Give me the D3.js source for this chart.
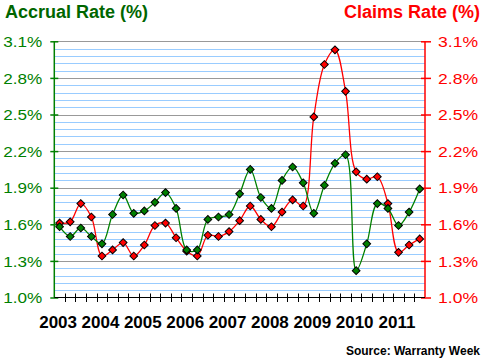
<!DOCTYPE html>
<html><head><meta charset="utf-8">
<script src="https://cdn.jsdelivr.net/npm/d3@7"></script>
<style>body{margin:0;background:#fff}svg{display:block}text{font-family:"Liberation Sans",Arial,sans-serif}</style>
</head><body><svg id="c" width="484" height="361"></svg>
<script>
const years = ["2003","2004","2005","2006","2007","2008","2009","2010","2011"];
const quarters = [];
years.forEach(y => [1,2,3,4].forEach(q => { if (!(y === "2011" && q === 4)) quarters.push(y + "Q" + q); }));
const accrualRate = [1.58,1.50,1.57,1.50,1.44,1.68,1.84,1.69,1.71,1.78,1.86,1.73,1.39,1.39,1.64,1.66,1.68,1.85,2.05,1.82,1.73,1.96,2.07,1.94,1.69,1.92,2.10,2.17,1.22,1.44,1.77,1.73,1.59,1.70,1.89];
const claimsRate  = [1.61,1.62,1.77,1.66,1.34,1.39,1.45,1.34,1.43,1.59,1.61,1.49,1.38,1.34,1.51,1.50,1.54,1.63,1.75,1.64,1.58,1.70,1.80,1.75,2.48,2.91,3.03,2.69,2.03,1.97,1.99,1.77,1.37,1.43,1.48];
const yTicks = [1.0,1.3,1.6,1.9,2.2,2.5,2.8,3.1];
const yMinor = d3.range(0,36).map(i => +(1.0 + i*0.06).toFixed(2));

const svg = d3.select("#c");
const L = 54.3, R = 425, T = 41.3, B = 297.5;
const x = d3.scaleBand().domain(quarters).range([L, R]);
const y = d3.scaleLinear().domain([1.0, 3.1]).range([B, T]);
const cx = d => x(d) + x.bandwidth()/2;

// minor gridlines
svg.append("g").selectAll("line").data(yMinor.filter(v => !yTicks.some(t => Math.abs(t-v)<1e-6)))
  .join("line").attr("x1", L).attr("x2", R).attr("y1", d => Math.round(y(d))+0.5).attr("y2", d => Math.round(y(d))+0.5)
  .attr("stroke", "#99ccff").attr("stroke-width", 1);
// major gridlines
svg.append("g").selectAll("line").data(yTicks.slice(1))
  .join("line").attr("x1", L).attr("x2", R).attr("y1", d => Math.round(y(d))+0.5).attr("y2", d => Math.round(y(d))+0.5)
  .attr("stroke", "#999999").attr("stroke-width", 1);

// left axis
const green = "#008000", red = "#ff0000";
const gl = svg.append("g").attr("transform", `translate(${L},0)`)
  .call(d3.axisLeft(y).tickValues(yTicks).tickSize(4).tickFormat(d => d.toFixed(1) + "%"));
gl.select(".domain").remove();
gl.append("line").attr("y1", T).attr("y2", B).attr("stroke", green).attr("stroke-width", 1.5);
gl.selectAll(".tick line").attr("x1", -4).attr("x2", 4).attr("stroke", green).attr("stroke-width", 1.5);
gl.selectAll(".tick text").attr("x", -12).attr("dy", "0.36em").attr("fill", green)
  .style("font-size", "14.5px").attr("textLength", 39).attr("lengthAdjust", "spacingAndGlyphs");

// right axis
const gr = svg.append("g").attr("transform", `translate(${R},0)`)
  .call(d3.axisRight(y).tickValues(yTicks).tickSize(4).tickFormat(d => d.toFixed(1) + "%"));
gr.select(".domain").remove();
gr.append("line").attr("y1", T).attr("y2", B).attr("stroke", red).attr("stroke-width", 1.5);
gr.selectAll(".tick line").attr("x1", -4).attr("x2", 6).attr("stroke", red).attr("stroke-width", 1.5);
gr.selectAll(".tick text").attr("x", 13).attr("dy", "0.36em").attr("fill", red)
  .style("font-size", "14.5px").attr("textLength", 40).attr("lengthAdjust", "spacingAndGlyphs");

// x axis
const gx = svg.append("g");
gx.append("line").attr("x1", L).attr("x2", R).attr("y1", B).attr("y2", B).attr("stroke", "#000").attr("stroke-width", 1);
const bounds = quarters.map(q => x(q)).concat([R]);
gx.selectAll("line.t").data(bounds.slice(1, -1)).join("line").attr("class","t")
  .attr("x1", d => Math.round(d)+0.5).attr("x2", d => Math.round(d)+0.5).attr("y1", B-4).attr("y2", B+4.5)
  .attr("stroke", "#000").attr("stroke-width", 1);
gx.selectAll("text").data(years).join("text")
  .attr("x", d => cx(d + "Q1") - 1.5).attr("y", 328).attr("text-anchor", "middle")
  .style("font-size", "17px").style("font-weight", "bold").attr("fill", "#000").text(d => d);

// lines
const line = d3.line().x((d,i) => cx(quarters[i])).y(d => y(d)).curve(d3.curveCatmullRom.alpha(0.5));
svg.append("path").datum(claimsRate).attr("d", line).attr("fill", "none").attr("stroke", red).attr("stroke-width", 1.3);
svg.append("path").datum(accrualRate).attr("d", line).attr("fill", "none").attr("stroke", green).attr("stroke-width", 1.3);

function markers(data, fill) {
  svg.append("g").selectAll("path").data(data).join("path")
    .attr("transform", (d,i) => `translate(${cx(quarters[i])},${y(d)}) rotate(45)`)
    .attr("d", d3.symbol().type(d3.symbolSquare).size(30))
    .attr("fill", fill).attr("stroke", "#000").attr("stroke-width", 1);
}
markers(claimsRate, red);
markers(accrualRate, green);

// titles
svg.append("text").attr("x", 5).attr("y", 18).style("font-size", "18px").style("font-weight", "bold")
  .attr("fill", "#006600").text("Accrual Rate (%)");
svg.append("text").attr("x", 480).attr("y", 18).attr("text-anchor", "end").style("font-size", "18px").style("font-weight", "bold")
  .attr("fill", red).text("Claims Rate (%)");
svg.append("text").attr("x", 480).attr("y", 355).attr("text-anchor", "end").style("font-size", "12px").style("font-weight", "bold")
  .attr("fill", "#000").text("Source: Warranty Week");
</script></body></html>
